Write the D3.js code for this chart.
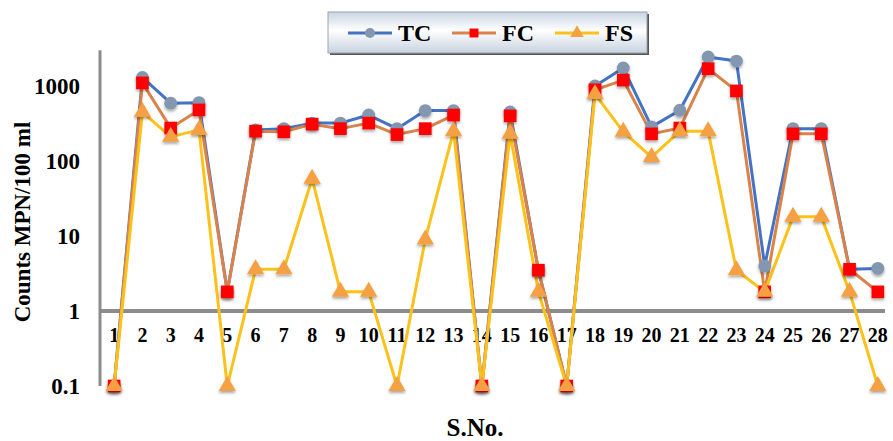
<!DOCTYPE html>
<html>
<head>
<meta charset="utf-8">
<script src="https://cdn.jsdelivr.net/npm/d3@7"></script>
<style>
  body { margin: 0; background: #fff; }
  svg text { font-family: "Liberation Serif", "Times New Roman", serif; font-weight: bold; fill: #000; }
</style>
</head>
<body>
<svg id="chart"></svg>
<script>
// sample numbers 1..28
const sno = d3.range(1, 29).map(String);
const tc = [0.1, 1300, 590, 600, 1.8, 260, 270, 320, 320, 410, 270, 470, 470, 0.1,
            450, 3.5, 0.1, 1000, 1740, 285, 475, 2440, 2150, 4, 270, 270, 3.6, 3.7];
const fc = [0.1, 1100, 275, 480, 1.8, 250, 245, 310, 270, 320, 225, 270, 410, 0.1,
            400, 3.5, 0.1, 890, 1200, 230, 275, 1700, 860, 1.8, 230, 230, 3.6, 1.8];
const fs = [0.1, 450, 210, 260, 0.1, 3.6, 3.6, 58, 1.8, 1.8, 0.1, 9, 250, 0.1,
            230, 1.8, 0.1, 780, 245, 113, 250, 250, 3.5, 1.8, 18, 18, 1.8, 0.1];
const yTicks = [0.1, 1, 10, 100, 1000];

const width = 893;
const height = 441;
const marginLeft = 100;
const marginRight = 1;

const svg = d3.select("#chart")
    .attr("width", width)
    .attr("height", height);

const defs = svg.append("defs");
const shadow = defs.append("filter").attr("id", "shadow")
    .attr("x", "-50%").attr("y", "-50%").attr("width", "200%").attr("height", "200%");
shadow.append("feDropShadow")
    .attr("dx", 0).attr("dy", 2).attr("stdDeviation", 1.6)
    .attr("flood-color", "#000").attr("flood-opacity", 0.35);

const grad = defs.append("linearGradient").attr("id", "legendGrad")
    .attr("x1", 0).attr("y1", 0).attr("x2", 0).attr("y2", 1);
grad.append("stop").attr("offset", "0%").attr("stop-color", "#c9d4e2");
grad.append("stop").attr("offset", "45%").attr("stop-color", "#ffffff");
grad.append("stop").attr("offset", "100%").attr("stop-color", "#c7d2e0");

const x = d3.scaleBand()
    .domain(sno)
    .range([marginLeft, width - marginRight]);

const y = d3.scaleLog()
    .domain([0.1, 1000])
    .range([386, 86]);

const cx = d => x(d) + x.bandwidth() / 2;

// y axis line (from 0.1 up past 1000)
svg.append("line")
    .attr("x1", marginLeft).attr("x2", marginLeft)
    .attr("y1", y(0.1)).attr("y2", y(3000))
    .attr("stroke", "#8c8c8c").attr("stroke-width", 3);

// x axis sits on value 1
const xAxis = svg.append("g")
    .attr("transform", `translate(0,${y(1)})`)
    .call(d3.axisBottom(x).tickSize(0).tickPadding(17));
xAxis.select(".domain").attr("stroke", "#8c8c8c").attr("stroke-width", 4)
    .attr("d", `M${marginLeft},0H${width - 8}`);
xAxis.selectAll("text")
    .attr("font-size", 20)
    .attr("fill", "#000");

const yAxis = svg.append("g")
    .attr("transform", `translate(${marginLeft},0)`)
    .call(d3.axisLeft(y).tickValues(yTicks).tickFormat(d => String(d)).tickSize(0).tickPadding(20));
yAxis.select(".domain").remove();
yAxis.selectAll("text")
    .attr("font-size", 23)
    .attr("fill", "#000");

// axis titles
svg.append("text")
    .attr("transform", `translate(30,222) rotate(-90)`)
    .attr("text-anchor", "middle")
    .attr("font-size", 23)
    .text("Counts MPN/100 ml");

svg.append("text")
    .attr("x", 475).attr("y", 436)
    .attr("text-anchor", "middle")
    .attr("font-size", 25)
    .text("S.No.");

const series = [
  {name: "TC", values: tc, line: "#4472c4", mark: "#8497b0", shape: d3.symbolCircle, size: 130},
  {name: "FC", values: fc, line: "#d9834a", mark: "#ff0000", shape: d3.symbolSquare, size: 160},
  {name: "FS", values: fs, line: "#fcc11b", mark: "#f5a042", shape: d3.symbolTriangle, size: 130}
];

const line = d3.line()
    .x((d, i) => cx(sno[i]))
    .y(d => y(d));

series.forEach(s => {
  svg.append("path")
      .datum(s.values)
      .attr("fill", "none")
      .attr("stroke", s.line)
      .attr("stroke-width", 3)
      .attr("stroke-linejoin", "round")
      .attr("d", line);
});

series.forEach(s => {
  svg.append("g")
      .attr("filter", "url(#shadow)")
    .selectAll("path")
    .data(s.values)
    .join("path")
      .attr("transform", (d, i) => `translate(${cx(sno[i])},${y(d)})`)
      .attr("d", d3.symbol(s.shape, s.size)())
      .attr("fill", s.mark);
});

// legend
const legend = svg.append("g").attr("transform", "translate(328,12)");
legend.append("rect")
    .attr("x", 2).attr("y", 2)
    .attr("width", 319).attr("height", 41)
    .attr("fill", "#555");
legend.append("rect")
    .attr("width", 319).attr("height", 41)
    .attr("fill", "url(#legendGrad)")
    .attr("stroke", "#9aa3ad").attr("stroke-width", 1);

const legendX = [20, 124, 227];
series.forEach((s, i) => {
  const g = legend.append("g").attr("transform", `translate(${legendX[i]},21)`);
  g.append("line").attr("x1", 0).attr("x2", 44)
      .attr("stroke", s.line).attr("stroke-width", 3);
  g.append("path").attr("transform", "translate(22,0)")
      .attr("d", d3.symbol(s.shape, 80)())
      .attr("fill", s.mark);
  g.append("text").attr("x", 50).attr("y", 8)
      .attr("font-size", 24)
      .text(s.name);
});
</script>
</body>
</html>
